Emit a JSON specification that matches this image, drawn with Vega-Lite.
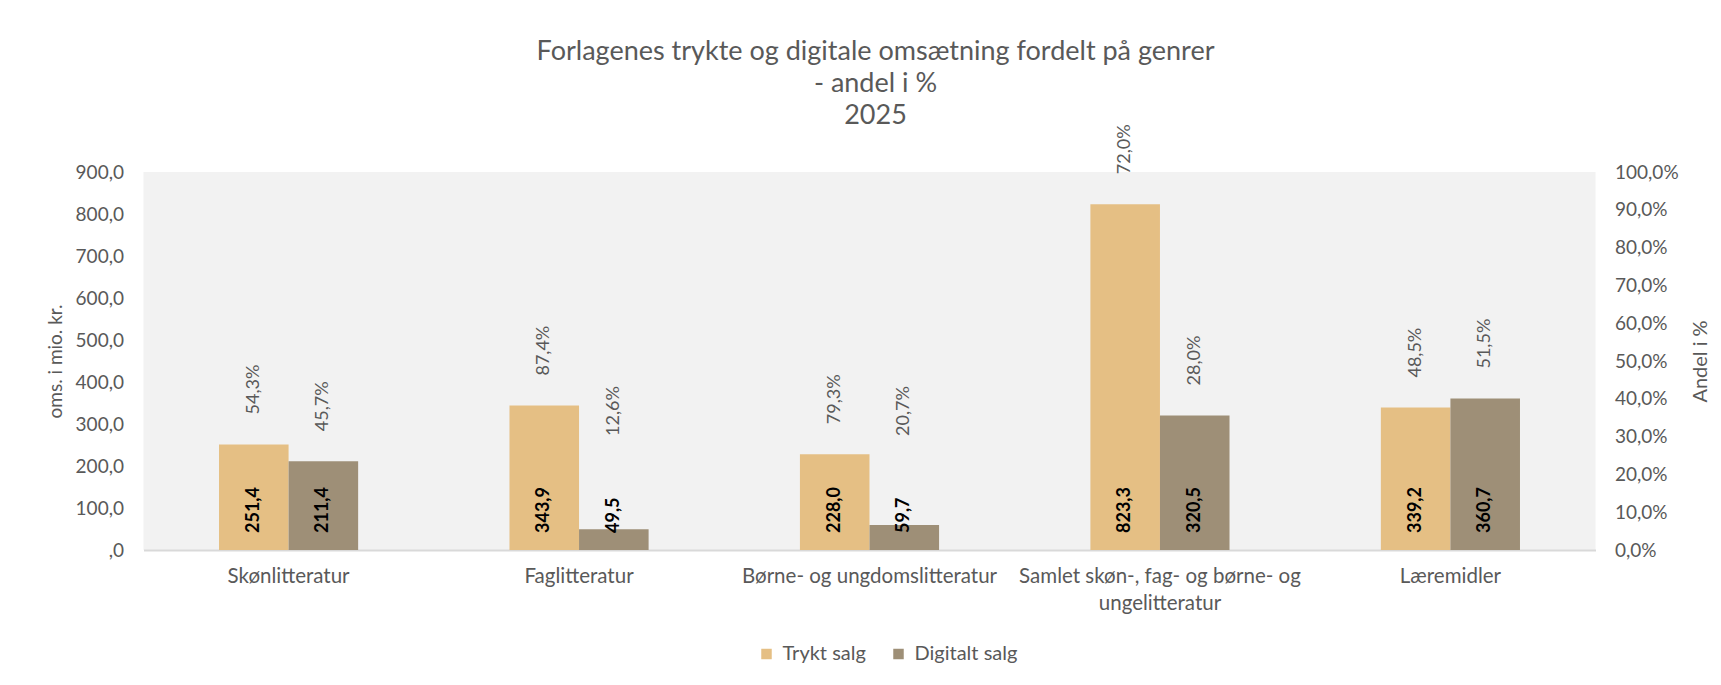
{
  "$schema": "https://vega.github.io/schema/vega-lite/v6.json",
  "width": 1452,
  "height": 378,
  "autosize": {"type": "none"},
  "padding": {"left": 143.5, "top": 172, "right": 125.5, "bottom": 135},
  "background": "white",
  "title": {
    "text": ["Forlagenes trykte og digitale omsætning fordelt på genrer", "- andel i %", "2025"],
    "fontSize": 27,
    "fontWeight": "normal",
    "font": "Lato",
    "color": "#595959",
    "lineHeight": 32,
    "anchor": "middle",
    "frame": "group",
    "offset": 4,
    "dy": 10,
    "dx": 6
  },
  "config": {
    "locale": {"number": {"decimal": ",", "thousands": ".", "grouping": [3], "currency": ["", " kr."]}},
    "font": "Lato",
    "view": {"fill": "#F2F2F2", "stroke": null},
    "axis": {
      "labelFont": "Lato",
      "labelFontSize": 19,
      "labelColor": "#595959",
      "titleFont": "Lato",
      "titleFontSize": 20,
      "titleFontWeight": "normal",
      "titleColor": "#595959",
      "ticks": false,
      "grid": false
    },
    "legend": {
      "labelFont": "Lato",
      "labelFontSize": 20,
      "labelColor": "#595959"
    }
  },
  "data": {
    "values": [
      {"genre": "Skønlitteratur", "type": "Trykt salg", "value": 251.4, "pct": 0.543},
      {"genre": "Skønlitteratur", "type": "Digitalt salg", "value": 211.4, "pct": 0.457},
      {"genre": "Faglitteratur", "type": "Trykt salg", "value": 343.9, "pct": 0.874},
      {"genre": "Faglitteratur", "type": "Digitalt salg", "value": 49.5, "pct": 0.126},
      {"genre": "Børne- og ungdomslitteratur", "type": "Trykt salg", "value": 228.0, "pct": 0.793},
      {"genre": "Børne- og ungdomslitteratur", "type": "Digitalt salg", "value": 59.7, "pct": 0.207},
      {"genre": "Samlet skøn-, fag- og børne- og ungelitteratur", "type": "Trykt salg", "value": 823.3, "pct": 0.72},
      {"genre": "Samlet skøn-, fag- og børne- og ungelitteratur", "type": "Digitalt salg", "value": 320.5, "pct": 0.28},
      {"genre": "Læremidler", "type": "Trykt salg", "value": 339.2, "pct": 0.485},
      {"genre": "Læremidler", "type": "Digitalt salg", "value": 360.7, "pct": 0.515}
    ]
  },
  "encoding": {
    "x": {
      "field": "genre",
      "type": "nominal",
      "sort": null,
      "scale": {"paddingInner": 0.521, "paddingOuter": 0.26},
      "axis": {
        "title": null,
        "labelAngle": 0,
        "labelFontSize": 20.5,
        "labelPadding": 16,
        "labelLineHeight": 27,
        "labelLimit": 400,
        "domain": true,
        "domainColor": "#D9D9D9",
        "domainWidth": 2,
        "labelExpr": "datum.value == 'Samlet skøn-, fag- og børne- og ungelitteratur' ? ['Samlet skøn-, fag- og børne- og', 'ungelitteratur'] : datum.label"
      }
    },
    "xOffset": {"field": "type", "type": "nominal", "sort": ["Trykt salg", "Digitalt salg"], "scale": {"paddingInner": 0, "paddingOuter": 0}}
  },
  "layer": [
    {
      "mark": {"type": "bar"},
      "encoding": {
        "y": {
          "field": "value",
          "type": "quantitative",
          "scale": {"domain": [0, 900], "nice": false},
          "axis": {
            "orient": "left",
            "title": "oms. i mio. kr.",
            "titleFontSize": 19,
            "values": [0, 100, 200, 300, 400, 500, 600, 700, 800, 900],
            "format": ".1f",
            "labelExpr": "datum.value == 0 ? ',0' : datum.label",
            "labelPadding": 20,
            "titlePadding": 10,
            "domain": false
          }
        },
        "color": {
          "field": "type",
          "type": "nominal",
          "scale": {"domain": ["Trykt salg", "Digitalt salg"], "range": ["#E5BF84", "#9E8F77"]},
          "legend": {
            "orient": "none",
            "legendX": 613,
            "legendY": 472,
            "direction": "horizontal",
            "title": null,
            "symbolType": "square",
            "symbolSize": 110,
            "symbolStrokeWidth": 0,
            "columnPadding": 22,
            "labelOffset": 6
          }
        }
      }
    },
    {
      "mark": {"type": "text", "angle": 270, "align": "left", "baseline": "middle", "dx": 17, "fontSize": 18, "fontWeight": "bold", "color": "#000000", "font": "Lato"},
      "encoding": {
        "y": {"datum": 0, "type": "quantitative", "scale": {"domain": [0, 900], "nice": false}, "axis": null},
        "text": {"field": "value", "type": "quantitative", "format": ".1f"}
      }
    },
    {
      "mark": {"type": "text", "angle": 270, "align": "left", "baseline": "middle", "dx": 30, "fontSize": 18, "color": "#595959", "font": "Lato"},
      "encoding": {
        "y": {
          "field": "value",
          "type": "quantitative",
          "scale": {"domain": [200, 900], "nice": false, "zero": false, "clamp": true, "range": [{"expr": "height*7/9"}, 0]},
          "axis": null
        },
        "text": {"field": "pct", "type": "quantitative", "format": ".1%"}
      }
    },
    {
      "mark": {"type": "point", "opacity": 0},
      "encoding": {
        "y": {
          "field": "pct",
          "type": "quantitative",
          "scale": {"domain": [0, 1], "nice": false},
          "axis": {
            "orient": "right",
            "title": "Andel i %",
            "titleAngle": 270,
            "values": [0, 0.1, 0.2, 0.3, 0.4, 0.5, 0.6, 0.7, 0.8, 0.9, 1],
            "format": ".1%",
            "labelPadding": 19,
            "titlePadding": 32,
            "domain": false
          }
        }
      }
    }
  ],
  "resolve": {"scale": {"y": "independent"}}
}
